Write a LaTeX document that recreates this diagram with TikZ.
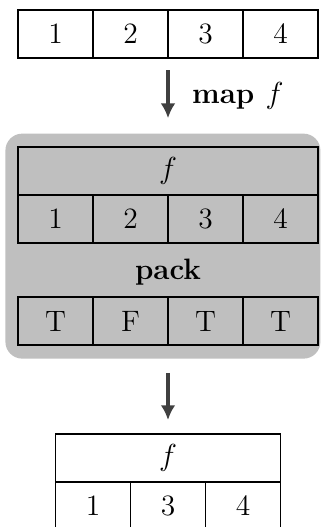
\documentclass[tikz,border=0pt]{standalone}
\usepackage{amsmath}
\usepackage{tikz}
\usetikzlibrary{arrows.meta, positioning}

\begin{document}
\begin{tikzpicture}[
    node distance = 0pt,
    cell/.style   = {rectangle, draw, thick, minimum width=1.25cm,
                     minimum height=0.8cm, inner sep=0pt, outer sep=0pt,
                     font=\fontsize{14}{17}\selectfont},
    wide/.style   = {cell, minimum width=5cm},
    arr/.style    = {-{Latex[length=7pt, width=7pt]}, line width=2pt,
                     color=black!75},
    group/.style  = {rectangle, rounded corners=8pt, fill=black!25,
                     minimum width=5.25cm, minimum height=3.75cm},
    lbl/.style    = {font=\fontsize{14}{17}\selectfont\bfseries},
  ]
  \useasboundingbox (0,0) rectangle (5.383,-8.783);

  %% Input array
  \node[cell, anchor=north west] (in1) at (0.3,-0.167) {1};
  \node[cell, right=of in1] (in2) {2};
  \node[cell, right=of in2] (in3) {3};
  \node[cell, right=of in3] (in4) {4};

  %% Packing stage (grey box)
  \node[group, anchor=north west] (packbox) at (0.083,-2.22) {};
  \node[wide, anchor=north west] (mf) at (0.3,-2.45) {$f$};
  \node[cell, anchor=north west] (m1) at (mf.south west) {1};
  \node[cell, right=of m1] (m2) {2};
  \node[cell, right=of m2] (m3) {3};
  \node[cell, right=of m3] (m4) {4};
  \node[lbl] (pack) at (2.8,-4.53) {pack};
  \node[cell, anchor=north west] (b1) at (0.3,-4.95) {T};
  \node[cell, right=of b1] (b2) {F};
  \node[cell, right=of b2] (b3) {T};
  \node[cell, right=of b3] (b4) {T};

  %% Packed result
  \node[cell, minimum width=3.75cm, anchor=north] (rf) at (2.8,-7.23) {$f$};
  \node[cell, anchor=north west] (r1) at (rf.south west) {1};
  \node[cell, right=of r1] (r3) {3};
  \node[cell, right=of r3] (r4) {4};

  %% Arrows
  \draw[arr, shorten <=0.2cm, shorten >=0.25cm]
    (in2.south east) -- (in2.south east |- packbox.north)
    node[midway, right=0.25cm, black, lbl] {map $f$};
  \draw[arr, shorten <=0.23cm, shorten >=0.23cm]
    (packbox.south -| rf.north) -- (rf.north);
\end{tikzpicture}
\end{document}
